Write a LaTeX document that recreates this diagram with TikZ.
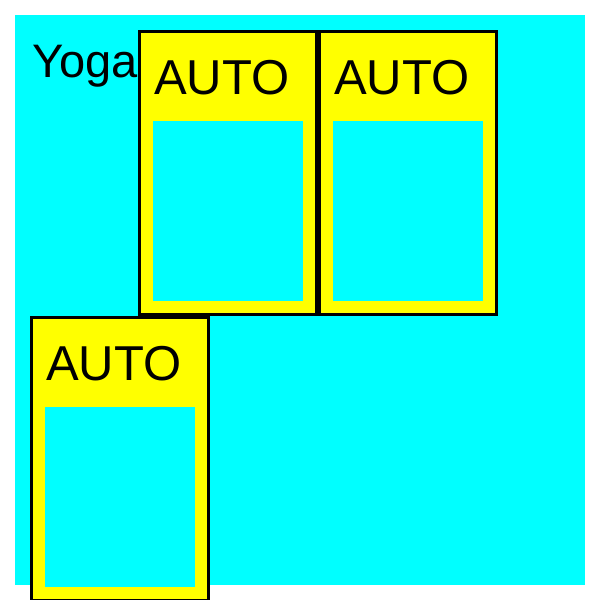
\documentclass[tikz,border=0pt]{standalone}
\usepackage{fontspec}
\setmainfont{Liberation Sans}
\definecolor{aqua}{RGB}{0,255,255}
\definecolor{yell}{RGB}{255,255,0}
\begin{document}
\begin{tikzpicture}[x=1pt,y=-1pt,
  outerbox/.style={fill=yell,draw=black,line width=3pt},
  innerbox/.style={fill=aqua,draw=none},
  autolabel/.style={anchor=base west,inner sep=0pt,font=\fontsize{49}{56}\selectfont},
  ]
\useasboundingbox (0,0) rectangle (600,600);
\fill[white] (0,0) rectangle (600,600);
\fill[aqua] (15,15) rectangle (585,585);
\node[anchor=base west,inner sep=0pt,font=\fontsize{47}{54}\selectfont] (yoga) at (32,77) {Yoga};
\foreach \nm/\x/\y in {b1/138/30, b2/318/30, b3/30/316}{
  \draw[outerbox] (\x+1.5,\y+1.5) rectangle (\x+178.5,\y+284.5);
  \fill[innerbox] (\x+15,\y+91) rectangle (\x+165,\y+271);
  \node[autolabel] (\nm) at (\x+16,\y+64) {AUTO};
}
\end{tikzpicture}
\end{document}
